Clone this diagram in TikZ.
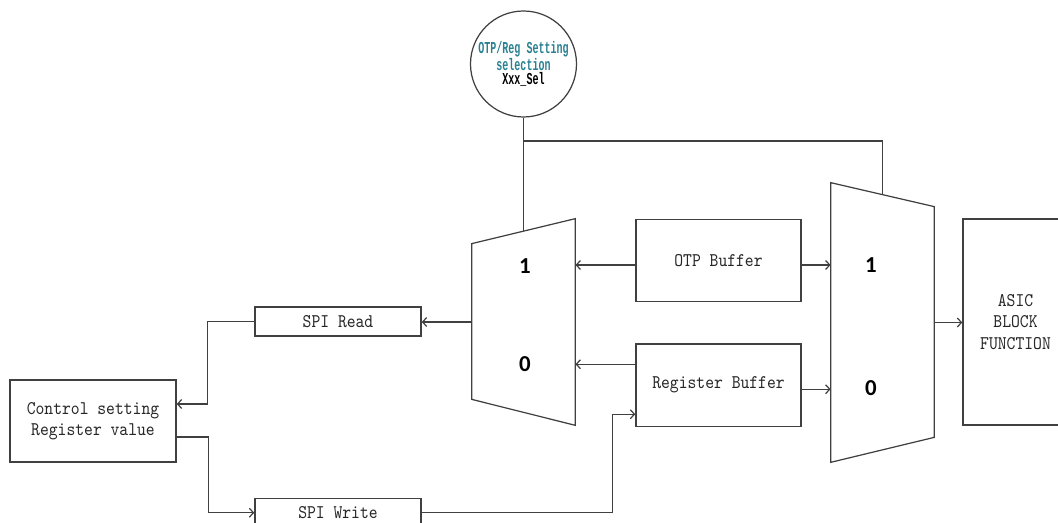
\documentclass[tikz,border=0pt]{standalone}
\usepackage{fontspec}
\usepackage{tikz}
\usetikzlibrary{arrows.meta, positioning}

\newfontfamily\selfont[FakeStretch=0.6]{Liberation Mono}
\newfontfamily\portfont{Carlito}
\newfontfamily\diagfont[FakeStretch=0.87]{lmmono10-regular.otf}
\definecolor{selteal}{RGB}{42,128,145}
\definecolor{wirecol}{RGB}{64,64,64}

\begin{document}
\begin{tikzpicture}[node distance=1cm and 1cm, >={Straight Barb[length=2.4pt,width=5pt]},
		line/.style={line width=0.7pt, draw=wirecol},
		block/.style={rectangle, line, minimum width=3.3cm, minimum height=1.65cm, align=center, inner sep=0pt,
			font=\diagfont\fontsize{11}{12.2}\selectfont, text=black!85},
		spi/.style={block, minimum height=0.58cm},
		muxbox/.style={rectangle, minimum width=2.06cm, inner sep=0pt},
		port/.style={font=\portfont\bfseries\fontsize{13}{13}\selectfont, text=black},
		wire/.style={->, line}]
	\useasboundingbox (0,0) rectangle (21.16,-10.46);
	
	% select circle
	\node[circle, line, minimum size=2.12cm, inner sep=0pt, align=center,
		font=\selfont\bfseries\fontsize{9.5}{8}\selectfont] (selc) at (10.47,-1.28)
		{\textcolor{selteal}{OTP/Reg Setting}\\\textcolor{selteal}{selection}\\Xxx\_Sel};
	
	% muxes
	\node[muxbox, minimum height=4.12cm] (mux1) at (10.47,-6.44) {};
	\node[muxbox, minimum height=5.58cm] (mux2) at (17.65,-6.45) {};
	\draw[line] ([yshift=-0.5cm]mux1.north west) -- (mux1.north east) -- (mux1.south east) -- ([yshift=0.52cm]mux1.south west) -- cycle;
	\draw[line] (mux2.north west) -- ([yshift=-0.48cm]mux2.north east) -- ([yshift=0.5cm]mux2.south east) -- (mux2.south west) -- cycle;
	
	% blocks
	\node[block] (otp) at (14.37,-5.21) {OTP Buffer};
	\node[block, below=0.82cm of otp] (reg) {Register Buffer};
	\node[block, minimum width=2.1cm, minimum height=4.12cm] (asic) at (20.31,-6.44) {ASIC\\BLOCK\\FUNCTION};
	\node[block, minimum width=3.32cm, minimum height=1.64cm] (ctl) at (1.86,-8.42) {Control setting\\Register value};
	\node[spi, minimum width=3.32cm] (rd) at (6.76,-6.43) {SPI Read};
	\node[spi, minimum width=3.32cm, below=3.22cm of rd] (wr) {SPI Write};
	
	% port labels
	\node[port] (m1one) at (10.5,-5.33) {1};
	\node[port] (m1zero) at (10.5,-7.29) {0};
	\node[port] (m2one) at (17.42,-5.30) {1};
	\node[port] (m2zero) at (17.42,-7.76) {0};
	
	% select lines
	\coordinate (jn) at (selc.south |- 0,-2.82);
	\draw[line] (selc.south) -- ([yshift=-0.25cm]mux1.north);
	\draw[line] (jn) -| ([yshift=-0.24cm]mux2.north);
	
	% data paths
	\draw[wire] ([yshift=-0.09cm]otp.west) -- ([yshift=-0.09cm]otp.west -| mux1.east);
	\draw[wire] ([yshift=0.42cm]reg.west) -- ([yshift=0.42cm]reg.west -| mux1.east);
	\draw[wire] ([yshift=-0.09cm]otp.east) -- ([yshift=-0.09cm]otp.east -| mux2.west);
	\draw[wire] ([yshift=-0.08cm]reg.east) -- ([yshift=-0.08cm]reg.east -| mux2.west);
	\draw[wire] (mux2.east) -- (mux2.east -| asic.west);
	\draw[wire] (mux1.west) -- (mux1.west -| rd.east);
	\draw[wire] (rd.west) -- ++(-0.94,0) |- ([yshift=0.34cm]ctl.east);
	\draw[wire] ([yshift=-0.32cm]ctl.east) -- ++(0.64,0) |- (wr.west);
	\draw[wire] (wr.east) -- ++(3.82,0) |- ([yshift=-0.58cm]reg.west);
\end{tikzpicture}
\end{document}
